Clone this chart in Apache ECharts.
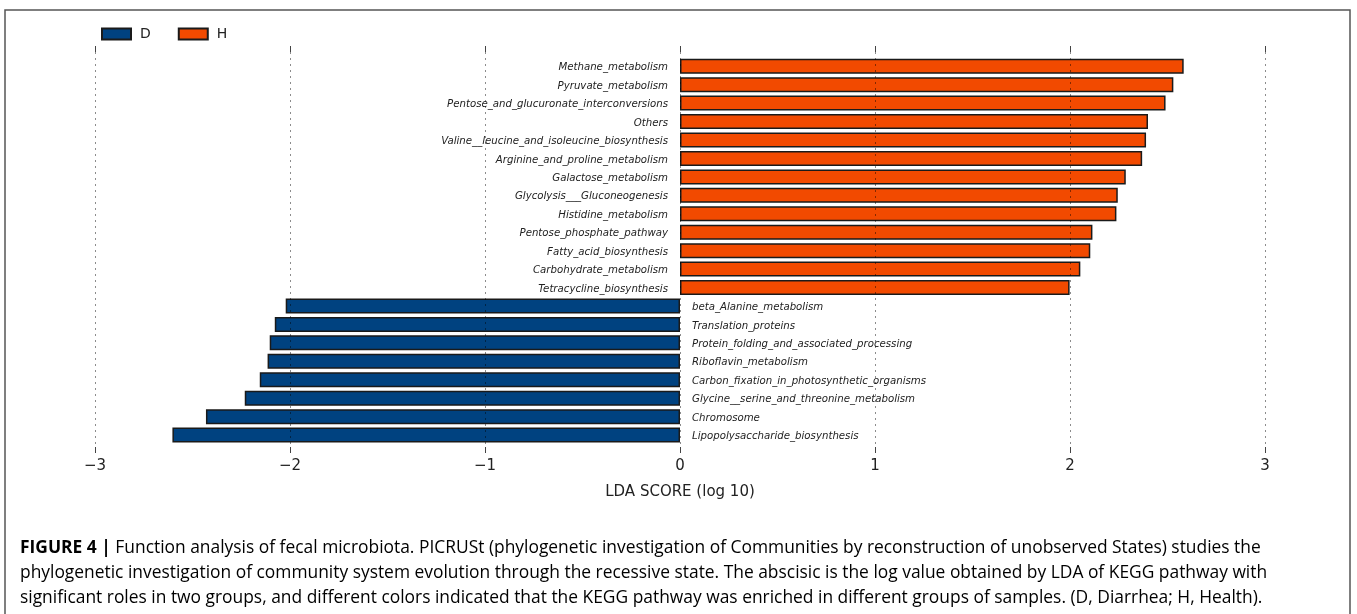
<!DOCTYPE html>
<html>
<head>
<meta charset="utf-8">
<script src="https://cdn.jsdelivr.net/npm/echarts@6/dist/echarts.min.js"></script>
<style>
html,body{margin:0;padding:0;background:#fff;}
#main{width:1357px;height:614px;}
</style>
</head>
<body>
<div id="main"></div>
<script>
// ---- data ----
const hCategories = [
  'Methane_metabolism','Pyruvate_metabolism','Pentose_and_glucuronate_interconversions','Others',
  'Valine__leucine_and_isoleucine_biosynthesis','Arginine_and_proline_metabolism','Galactose_metabolism',
  'Glycolysis___Gluconeogenesis','Histidine_metabolism','Pentose_phosphate_pathway',
  'Fatty_acid_biosynthesis','Carbohydrate_metabolism','Tetracycline_biosynthesis'
];
const hValues = [2.583, 2.53, 2.49, 2.40, 2.39, 2.37, 2.286, 2.245, 2.238, 2.115, 2.104, 2.053, 1.998];
const dCategories = [
  'beta_Alanine_metabolism','Translation_proteins','Protein_folding_and_associated_processing',
  'Riboflavin_metabolism','Carbon_fixation_in_photosynthetic_organisms',
  'Glycine__serine_and_threonine_metabolism','Chromosome','Lipopolysaccharide_biosynthesis'
];
const dValues = [-2.022, -2.078, -2.104, -2.115, -2.155, -2.232, -2.431, -2.603];
const xTicks = [-3, -2, -1, 0, 1, 2, 3];
const groupNames = ['D', 'H'];
const axisTitle = 'LDA SCORE (log 10)';
const captionBold = 'FIGURE 4 | ';
const captionLines = [
  'Function analysis of fecal microbiota. PICRUSt (phylogenetic investigation of Communities by reconstruction of unobserved States) studies the',
  'phylogenetic investigation of community system evolution through the recessive state. The abscisic is the log value obtained by LDA of KEGG pathway with',
  'significant roles in two groups, and different colors indicated that the KEGG pathway was enriched in different groups of samples. (D, Diarrhea; H, Health).'
];

// ---- build ----
const categories = hCategories.concat(dCategories);
const hData = categories.map((c) => { const i = hCategories.indexOf(c); return i >= 0 ? hValues[i] : null; });
const dData = categories.map((c) => { const i = dCategories.indexOf(c); return i >= 0 ? dValues[i] : null; });

const FONT = 'DejaVu Sans';
const labelStyle = { show: true, formatter: '{b}', fontStyle: 'italic', fontSize: 10.2, fontFamily: FONT, color: '#222', distance: 12, offset: [0, 1.5] };
const minus = (v) => String(v).replace('-', '\u2212');

const chart = echarts.init(document.getElementById('main'), null, { renderer: 'canvas' });
chart.setOption({
  animation: false,
  backgroundColor: '#fff',
  legend: {
    data: groupNames,
    left: 101, top: 27, padding: 0,
    itemWidth: 29, itemHeight: 11, itemGap: 27,
    icon: 'rect',
    textStyle: { fontFamily: FONT, fontSize: 14, color: '#222', padding: [0, 0, 0, 4] }
  },
  grid: [
    { left: 95, width: 1170, top: 57, height: 387.3 },
    { left: 95, width: 1170, top: 52, height: 395 }
  ],
  xAxis: [
    { gridIndex: 0, type: 'value', min: -3, max: 3, interval: 1, show: false },
    {
      gridIndex: 1, type: 'value', position: 'bottom', min: -3, max: 3, interval: 1, z: 5,
      axisLine: { show: false },
      axisTick: { show: true, length: 6, lineStyle: { color: '#444', width: 1 } },
      axisLabel: { fontFamily: FONT, fontSize: 15, color: '#222', margin: 12, formatter: minus },
      splitLine: { show: true, lineStyle: { color: 'rgba(0,0,0,0.45)', type: [2, 4], width: 1 } },
      name: axisTitle, nameLocation: 'middle', nameGap: 38,
      nameTextStyle: { fontFamily: FONT, fontSize: 15, color: '#222' }
    },
    {
      gridIndex: 1, type: 'value', position: 'top', min: -3, max: 3, interval: 1, z: 5,
      axisLine: { show: false },
      axisTick: { show: true, length: 6, lineStyle: { color: '#444', width: 1 } },
      axisLabel: { show: false }, splitLine: { show: false }
    }
  ],
  yAxis: [
    { gridIndex: 0, type: 'category', data: categories, inverse: true, show: false },
    { gridIndex: 1, type: 'value', min: 0, max: 1, show: false }
  ],
  series: [
    {
      name: 'D', type: 'bar', xAxisIndex: 0, yAxisIndex: 0, stack: 'lda', data: dData, barWidth: 15,
      itemStyle: { color: '#004280', borderColor: '#1a1a1a', borderWidth: 1.5 },
      label: Object.assign({ position: 'right' }, labelStyle)
    },
    {
      name: 'H', type: 'bar', xAxisIndex: 0, yAxisIndex: 0, stack: 'lda', data: hData, barWidth: 15,
      itemStyle: { color: '#f24a00', borderColor: '#1a1a1a', borderWidth: 1.5 },
      label: Object.assign({ position: 'left' }, labelStyle)
    }
  ],
  graphic: [
    { type: 'rect', shape: { x: 5, y: 10, width: 1345, height: 640 }, style: { fill: 'none', stroke: '#555', lineWidth: 1.5 }, silent: true },
    {
      type: 'text', left: 20, top: 536,
      style: {
        text: '{b|' + captionBold + '}{n|' + captionLines[0] + '}\n{n|' + captionLines[1] + '}\n{n|' + captionLines[2] + '}',
        lineHeight: 25,
        rich: {
          b: { fontFamily: 'Open Sans', fontWeight: 'bold', fontSize: 17.4, color: '#333', lineHeight: 25 },
          n: { fontFamily: 'Open Sans', fontSize: 17.4, color: '#333', lineHeight: 25 }
        }
      }
    }
  ]
});
</script>
</body>
</html>
